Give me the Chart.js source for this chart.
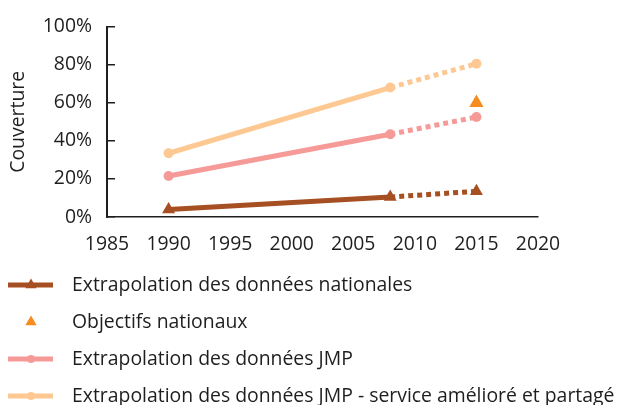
<!DOCTYPE html>
<html>
<head>
<meta charset="utf-8">
<script src="https://cdn.jsdelivr.net/npm/chart.js@4/dist/chart.umd.min.js"></script>
<style>
  html, body { margin: 0; padding: 0; background: #fff; }
  #wrap { width: 618px; height: 405px; position: relative; }
</style>
</head>
<body>
<div id="wrap"><canvas id="myChart"></canvas></div>
<script>
// data
var years = [1990, 2008, 2015];
var nationales = [4, 10.5, 13.5];
var objectifs = [null, null, 60];
var jmp = [21.5, 43.5, 52.5];
var jmpAmeliore = [33.5, 68, 80.5];
var xTicks = [1985, 1990, 1995, 2000, 2005, 2010, 2015, 2020];
var yTicks = [0, 20, 40, 60, 80, 100];

var labels = [
    "Extrapolation des données nationales",
    "Objectifs nationaux",
    "Extrapolation des données JMP",
    "Extrapolation des données JMP - service amélioré et partagé"
];

var cBrown = "#A64F22";
var cOrange = "#F68B1F";
var cPink = "#F69A98";
var cPeach = "#FEC892";
var txt = "#1e1e1e";
var fontFam = "'Open Sans'";
var fontSize = 19.4;

function pts(vals) {
    var out = [];
    vals.forEach(function (v, i) { if (v != null) out.push({ x: years[i], y: v }); });
    return out;
}

var dotted = {
    borderDash: function (ctx) { return ctx.p0DataIndex >= 1 ? [5, 4] : undefined; }
};

// y axis line with short tick marks pointing into the plot
var yAxisLine = {
    id: "yAxisLine",
    afterDraw: function (chart) {
        var ctx = chart.ctx, y = chart.scales.y;
        var x0 = Math.round(chart.chartArea.left);
        var top = Math.round(y.getPixelForValue(yTicks[yTicks.length - 1]));
        var bottom = Math.round(y.getPixelForValue(0));
        ctx.save();
        ctx.fillStyle = txt;
        ctx.fillRect(x0 - 1, top - 1, 2, bottom - top + 2);
        yTicks.forEach(function (v) {
            var py = Math.round(y.getPixelForValue(v));
            ctx.fillRect(x0, py - 1, 8, 1.5);
        });
        ctx.restore();
    }
};

// legend drawn under the plot, one entry per row
var rowLegend = {
    id: "rowLegend",
    afterDraw: function (chart) {
        var ctx = chart.ctx;
        var rows = [285, 322, 359, 396];
        ctx.save();
        chart.data.datasets.forEach(function (ds, i) {
            var y = rows[i];
            if (ds.showLine !== false) {
                ctx.strokeStyle = ds.borderColor;
                ctx.lineWidth = 5;
                ctx.beginPath();
                ctx.moveTo(8, y);
                ctx.lineTo(53, y);
                ctx.stroke();
            }
            ctx.fillStyle = ds.pointBackgroundColor;
            if (ds.pointStyle === "triangle") {
                var r = 6.5;
                ctx.beginPath();
                ctx.moveTo(31, y - r);
                ctx.lineTo(31 + r * 0.866, y + r * 0.5);
                ctx.lineTo(31 - r * 0.866, y + r * 0.5);
                ctx.closePath();
                ctx.fill();
            } else {
                ctx.beginPath();
                ctx.arc(31, y, 4, 0, Math.PI * 2);
                ctx.fill();
            }
            ctx.fillStyle = txt;
            ctx.font = fontSize + "px " + fontFam;
            ctx.textBaseline = "middle";
            ctx.fillText(labels[i], 72, y);
        });
        ctx.restore();
    }
};

var chart = new Chart(document.getElementById("myChart"), {
    type: "line",
    data: {
        datasets: [{
            label: labels[0],
            data: pts(nationales),
            borderColor: cBrown,
            backgroundColor: cBrown,
            pointBackgroundColor: cBrown,
            pointBorderWidth: 0,
            pointStyle: "triangle",
            pointRadius: 7.5,
            borderWidth: 5,
            segment: dotted
        }, {
            label: labels[1],
            data: pts(objectifs),
            showLine: false,
            borderColor: cOrange,
            backgroundColor: cOrange,
            pointBackgroundColor: cOrange,
            pointBorderWidth: 0,
            pointStyle: "triangle",
            pointRadius: 8.2
        }, {
            label: labels[2],
            data: pts(jmp),
            borderColor: cPink,
            backgroundColor: cPink,
            pointBackgroundColor: cPink,
            pointBorderWidth: 0,
            pointRadius: 5,
            borderWidth: 5,
            segment: dotted
        }, {
            label: labels[3],
            data: pts(jmpAmeliore),
            borderColor: cPeach,
            backgroundColor: cPeach,
            pointBackgroundColor: cPeach,
            pointBorderWidth: 0,
            pointRadius: 5,
            borderWidth: 5,
            segment: dotted
        }]
    },
    options: {
        responsive: true,
        maintainAspectRatio: false,
        animation: false,
        layout: { padding: { top: 23, right: 80, bottom: 148, left: 0 } },
        plugins: {
            legend: { display: false },
            tooltip: { enabled: false }
        },
        scales: {
            x: {
                type: "linear",
                min: xTicks[0],
                max: xTicks[xTicks.length - 1],
                afterBuildTicks: function (axis) { axis.ticks = xTicks.map(function (v) { return { value: v }; }); },
                afterFit: function (axis) { axis.height = 40; },
                grid: { display: true, drawOnChartArea: false, drawTicks: false, color: txt, lineWidth: 1.5 },
                border: { display: true, color: txt, width: 1.5 },
                ticks: {
                    padding: 16,
                    maxRotation: 0,
                    color: txt,
                    font: { family: fontFam, size: fontSize },
                    callback: function (v) { return String(v); }
                }
            },
            y: {
                min: 0,
                max: 100,
                afterBuildTicks: function (axis) { axis.ticks = yTicks.map(function (v) { return { value: v }; }); },
                afterFit: function (axis) { axis.width = 107; },
                grid: { display: false, drawTicks: false },
                border: { display: false },
                title: {
                    display: true,
                    text: "Couverture",
                    color: txt,
                    font: { family: fontFam, size: fontSize },
                    padding: { top: 7, bottom: 0 }
                },
                ticks: {
                    padding: 15,
                    color: txt,
                    font: { family: fontFam, size: fontSize },
                    callback: function (v) { return v + "%"; }
                }
            }
        }
    },
    plugins: [yAxisLine, rowLegend]
});
</script>
</body>
</html>
